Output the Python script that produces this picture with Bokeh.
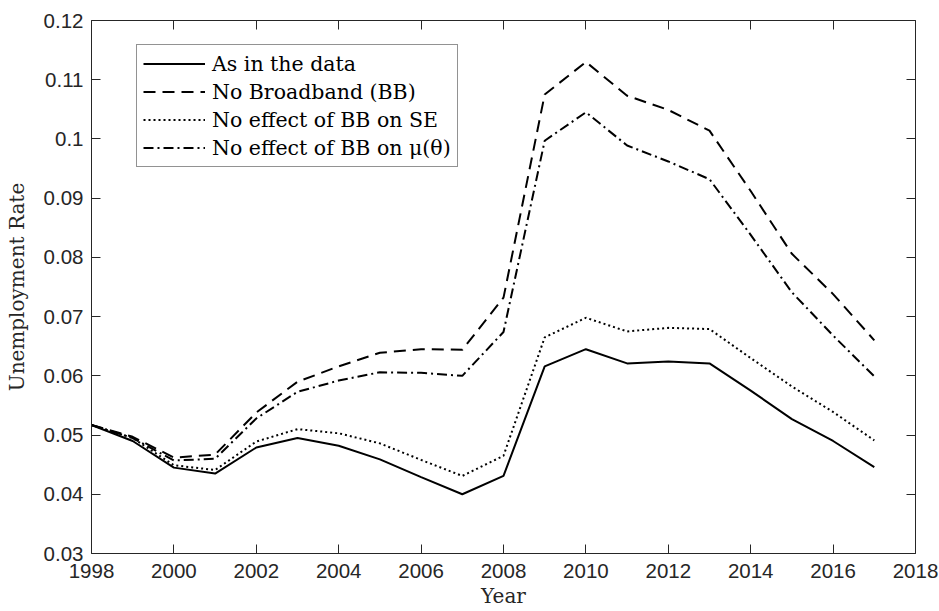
from bokeh.plotting import figure
from bokeh.models import (LinearAxis, FixedTicker, Range1d, Legend, LegendItem)
from bokeh.embed import file_html
from bokeh.resources import INLINE

# Unemployment rate, actual vs. counterfactual scenarios
years = list(range(1998, 2018))
as_in_data = [0.0517, 0.0490, 0.0445, 0.0435, 0.0479, 0.0495, 0.0482, 0.0459, 0.0429, 0.0400,
              0.0431, 0.0616, 0.0645, 0.0621, 0.0624, 0.0621, 0.0575, 0.0527, 0.0490, 0.0446]
no_broadband = [0.0517, 0.0497, 0.0462, 0.0467, 0.0538, 0.0590, 0.0616, 0.0639, 0.0645, 0.0644,
                0.0732, 0.1075, 0.1130, 0.1073, 0.1049, 0.1014, 0.0912, 0.0806, 0.0738, 0.0660]
no_effect_se = [0.0517, 0.0495, 0.0449, 0.0441, 0.0489, 0.0510, 0.0503, 0.0486, 0.0458, 0.0431,
                0.0465, 0.0665, 0.0698, 0.0675, 0.0681, 0.0679, 0.0630, 0.0582, 0.0539, 0.0491]
no_effect_mu = [0.0517, 0.0495, 0.0457, 0.0460, 0.0528, 0.0573, 0.0592, 0.0606, 0.0605, 0.0600,
                0.0674, 0.0997, 0.1045, 0.0989, 0.0962, 0.0932, 0.0838, 0.0741, 0.0668, 0.0599]

series_labels = ["As in the data", "No Broadband (BB)", "No effect of BB on SE",
                 "No effect of BB on \u03bc(\u03b8)"]

x_ticks = list(range(1998, 2019, 2))
x_tick_labels = [str(y) for y in x_ticks]
y_ticks = [0.03, 0.04, 0.05, 0.06, 0.07, 0.08, 0.09, 0.10, 0.11, 0.12]
y_tick_labels = ["0.03", "0.04", "0.05", "0.06", "0.07", "0.08", "0.09", "0.1", "0.11", "0.12"]

AX = "#262626"
TICK_FONT = "Liberation Sans"
SERIF = "DejaVu Serif"

p = figure(width=939, height=611, output_backend="svg", toolbar_location=None,
           x_range=Range1d(1998, 2018), y_range=Range1d(0.03, 0.12),
           min_border_left=91, min_border_right=24, min_border_top=20, min_border_bottom=58,
           x_axis_label="Year", y_axis_label="Unemployment Rate")
p.grid.visible = False
p.outline_line_color = None
p.background_fill_color = "white"
p.border_fill_color = "white"

xt = FixedTicker(ticks=x_ticks)
yt = FixedTicker(ticks=y_ticks)


def style_axis(ax):
    ax.axis_line_color = AX
    ax.axis_line_width = 1
    ax.major_tick_line_color = AX
    ax.major_tick_in = 9
    ax.major_tick_out = 0
    ax.minor_tick_line_color = None
    ax.major_label_text_color = AX
    ax.major_label_text_font = TICK_FONT
    ax.major_label_text_font_size = "20.5px"
    ax.axis_label_text_font = SERIF
    ax.axis_label_text_font_style = "normal"
    ax.axis_label_text_font_size = "20px"
    ax.axis_label_text_color = AX


xa = p.xaxis[0]
ya = p.yaxis[0]
xa.ticker = xt
ya.ticker = yt
xa.major_label_overrides = dict(zip(x_ticks, x_tick_labels))
ya.major_label_overrides = dict(zip(y_ticks, y_tick_labels))
style_axis(xa)
style_axis(ya)
xa.major_label_standoff = 10
xa.axis_label_standoff = 3
ya.major_label_standoff = 8
ya.axis_label_standoff = 12

# box on: mirrored axes with ticks but no labels
top = LinearAxis(ticker=FixedTicker(ticks=x_ticks),
                 major_label_overrides={t: "" for t in x_ticks})
right = LinearAxis(ticker=FixedTicker(ticks=y_ticks),
                   major_label_overrides={t: "" for t in y_ticks})
style_axis(top)
style_axis(right)
p.add_layout(top, "above")
p.add_layout(right, "right")

r1 = p.line(years, as_in_data, line_color="black", line_width=2)
r2 = p.line(years, no_broadband, line_color="black", line_width=2, line_dash="12 7")
r3 = p.line(years, no_effect_se, line_color="black", line_width=2, line_dash="2 3")
r4 = p.line(years, no_effect_mu, line_color="black", line_width=2, line_dash="10 4 2 4")

legend = Legend(items=[LegendItem(label=lab, renderers=[r])
                       for lab, r in zip(series_labels, [r1, r2, r3, r4])],
                location=(45, 386))
legend.label_text_font = SERIF
legend.label_text_font_size = "20.5px"
legend.label_text_color = "black"
legend.glyph_width = 62
legend.glyph_height = 25
legend.label_height = 25
legend.label_standoff = 7
legend.spacing = 3
legend.padding = 6
legend.margin = 0
legend.border_line_color = AX
legend.border_line_width = 1
legend.background_fill_color = "white"
legend.background_fill_alpha = 1
p.add_layout(legend, "center")

open("out.html", "w").write(file_html(p, INLINE))
